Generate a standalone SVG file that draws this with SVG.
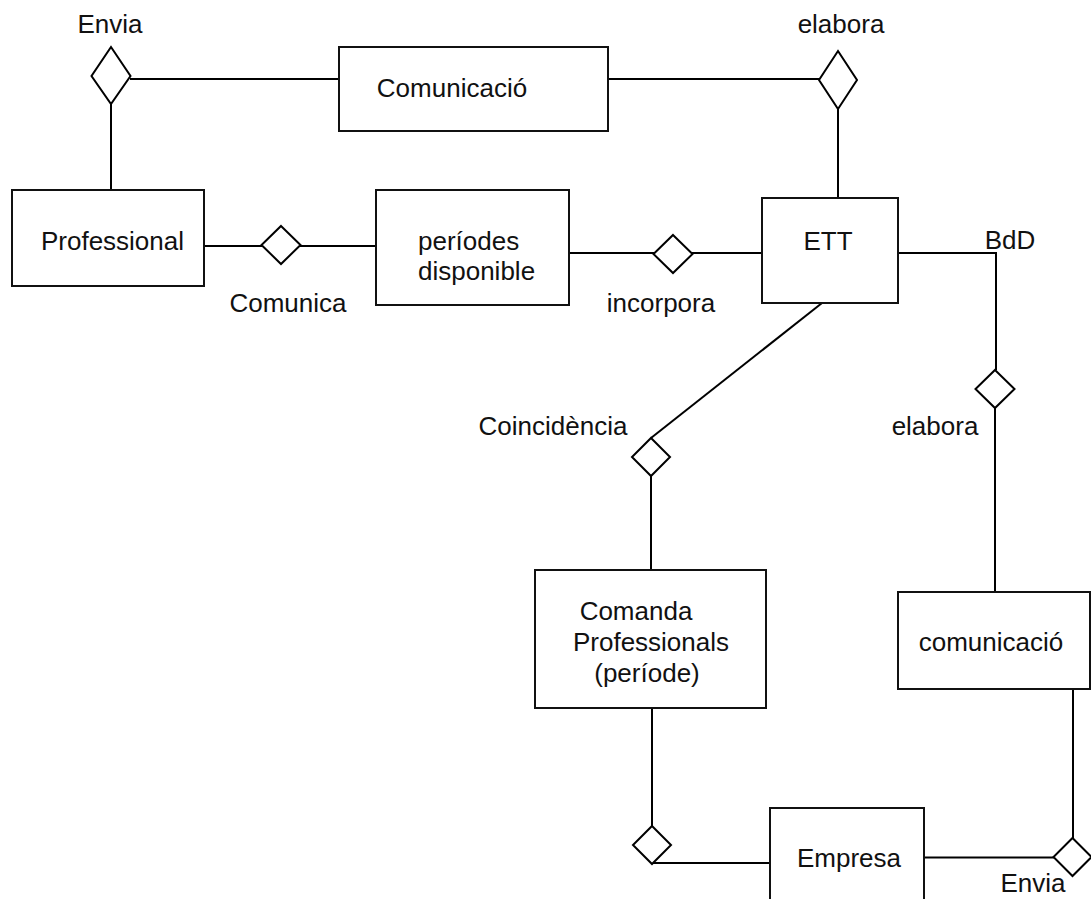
<svg xmlns="http://www.w3.org/2000/svg" width="1091" height="899" viewBox="0 0 1091 899">
<style>
.box{fill:#fff;stroke:#111;stroke-width:2}
.dia{fill:#fff;stroke:#000;stroke-width:2}
.ln{stroke:#000;stroke-width:2;fill:none}
text{font-family:"Liberation Sans",Arial,sans-serif;font-size:26px;fill:#111;text-anchor:middle}
</style>
<rect width="1091" height="899" fill="#fff"/>
<g id="connectors">
<line class="ln" x1="130" y1="79" x2="339" y2="79"/>
<line class="ln" x1="608" y1="79" x2="819" y2="79"/>
<line class="ln" x1="111" y1="104" x2="111" y2="190"/>
<line class="ln" x1="838" y1="109" x2="838" y2="198"/>
<line class="ln" x1="204" y1="246" x2="262" y2="246"/>
<line class="ln" x1="300" y1="246" x2="376" y2="246"/>
<line class="ln" x1="569" y1="253" x2="654" y2="253"/>
<line class="ln" x1="692" y1="253" x2="762" y2="253"/>
<polyline class="ln" points="898,253 996,253 996,370"/>
<line class="ln" x1="995" y1="408" x2="995" y2="592"/>
<line class="ln" x1="822" y1="303" x2="651" y2="438"/>
<line class="ln" x1="651" y1="476" x2="651" y2="570"/>
<line class="ln" x1="652" y1="708" x2="652" y2="826"/>
<line class="ln" x1="652" y1="863" x2="770" y2="863"/>
<line class="ln" x1="924" y1="857.5" x2="1054" y2="857.5"/>
<line class="ln" x1="1073" y1="689" x2="1073" y2="838"/>
</g>
<g id="rel-envia-top">
<polygon class="dia" points="111,47 130.5,76 111,104 91.5,76"/>
<text x="110" y="33">Envia</text>
</g>
<g id="rel-elabora-top">
<polygon class="dia" points="838,51 857,80 838,109 819,80"/>
<text x="841" y="33">elabora</text>
</g>
<g id="ent-comunicacio-top">
<rect class="box" x="339" y="47" width="269" height="84"/>
<text x="452" y="97">Comunicació</text>
</g>
<g id="ent-professional">
<rect class="box" x="12" y="190" width="192" height="96"/>
<text x="112.5" y="250">Professional</text>
</g>
<g id="rel-comunica">
<polygon class="dia" points="281,226 300.5,245 281,264 261.5,245"/>
<text x="288" y="312">Comunica</text>
</g>
<g id="ent-periodes">
<rect class="box" x="376" y="190" width="193" height="115"/>
<text x="418" y="250" style="text-anchor:start">períodes</text>
<text x="418" y="280" style="text-anchor:start">disponible</text>
</g>
<g id="rel-incorpora">
<polygon class="dia" points="673,235 692.5,254 673,273 653.5,254"/>
<text x="661" y="312">incorpora</text>
</g>
<g id="ent-ett">
<rect class="box" x="762" y="198" width="136" height="105"/>
<text x="828" y="250">ETT</text>
</g>
<g id="label-bdd">
<text x="1010" y="249">BdD</text>
</g>
<g id="rel-elabora-right">
<polygon class="dia" points="995,370 1014.5,389 995,408 975.5,389"/>
<text x="935" y="435">elabora</text>
</g>
<g id="rel-coincidencia">
<polygon class="dia" points="651,438 670,457 651,476 632,457"/>
<text x="553" y="435">Coincidència</text>
</g>
<g id="ent-comanda">
<rect class="box" x="535" y="570" width="231" height="138"/>
<text x="636" y="620">Comanda</text>
<text x="651" y="651">Professionals</text>
<text x="647" y="682">(període)</text>
</g>
<g id="ent-comunicacio-right">
<rect class="box" x="898" y="592" width="192" height="97"/>
<text x="991" y="651">comunicació</text>
</g>
<g id="rel-comanda-empresa">
<polygon class="dia" points="652,826 671,845 652,864 633,845"/>
</g>
<g id="ent-empresa">
<rect class="box" x="770" y="808" width="154" height="100"/>
<text x="849" y="867">Empresa</text>
</g>
<g id="rel-envia-bottom">
<polygon class="dia" points="1072.5,838 1091.5,857 1072.5,876 1053.5,857"/>
<text x="1033" y="892">Envia</text>
</g>
</svg>
